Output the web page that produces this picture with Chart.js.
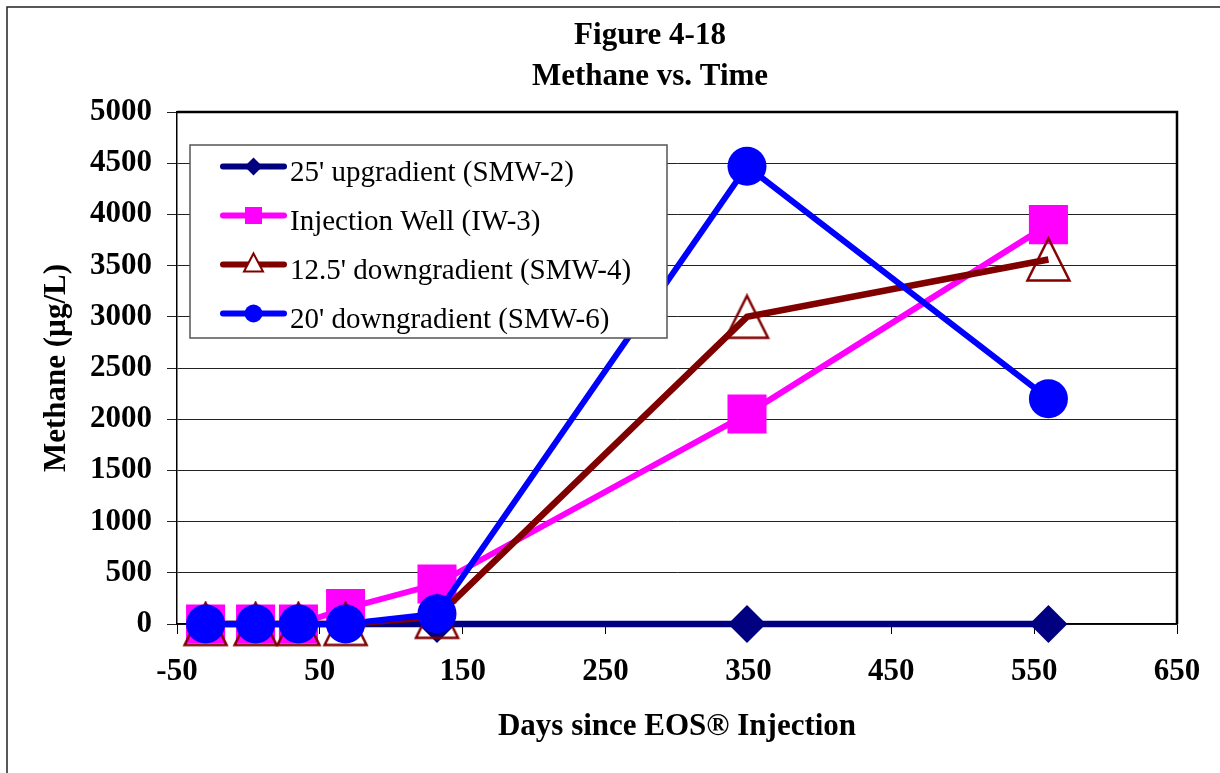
<!DOCTYPE html>
<html>
<head>
<meta charset="utf-8">
<title>Figure 4-18 Methane vs. Time</title>
<script src="https://cdn.jsdelivr.net/npm/chart.js@4.4.1/dist/chart.umd.min.js"></script>
<style>
  html, body { margin: 0; padding: 0; background: #fff; }
  canvas { display: block; }
</style>
</head>
<body>
<canvas id="chart" width="1220" height="773"></canvas>
<script>
// 数据
const days = [-30, 5, 35, 68, 132, 349, 560];
const smw2 = [0, 0, 0, 0, 0, 0, 0];
const iw3 = [0, 0, 0, 150, 390, 2050, 3900];
const smw4 = [0, 0, 0, 0, 70, 3000, 3560];
const smw6 = [0, 0, 0, 0, 100, 4470, 2200];

const seriesLabels = [
    "25' upgradient (SMW-2)",
    "Injection Well (IW-3)",
    "12.5' downgradient (SMW-4)",
    "20' downgradient (SMW-6)"
];
const titleLines = ['Figure 4-18', 'Methane vs. Time'];
const xTitle = 'Days since EOS\u00AE Injection';
const yTitle = 'Methane (\u00B5g/L)';
const xMin = -50, xMax = 650, xStep = 100;
const yMin = 0, yMax = 5000, yStep = 500;

const FONT = '"Liberation Serif", "Times New Roman", serif';

// 空心三角形标记
function triangleMarker(w, h, color, lw) {
    const c = document.createElement('canvas');
    c.width = w + lw * 2;
    c.height = h + lw * 2;
    const g = c.getContext('2d');
    g.strokeStyle = color;
    g.lineWidth = lw;
    g.lineJoin = 'miter';
    g.beginPath();
    g.moveTo(c.width / 2, lw);
    g.lineTo(c.width - lw, h + lw);
    g.lineTo(lw, h + lw);
    g.closePath();
    g.stroke();
    return c;
}

function toPoints(vals) {
    return days.map((d, i) => ({ x: d, y: vals[i] }));
}

const datasets = [
    {
        label: seriesLabels[0], data: toPoints(smw2),
        borderColor: '#000080', backgroundColor: '#000080', borderWidth: 6.5,
        pointStyle: 'rectRot', pointRadius: 19, pointBorderWidth: 0, order: 4,
        legendMarker: 'diamond'
    },
    {
        label: seriesLabels[1], data: toPoints(iw3),
        borderColor: '#FF00FF', backgroundColor: '#FF00FF', borderWidth: 6,
        pointStyle: 'rect', pointRadius: 27.6, pointBorderWidth: 0, order: 3,
        legendMarker: 'square'
    },
    {
        label: seriesLabels[2], data: toPoints(smw4),
        borderColor: '#800000', backgroundColor: 'rgba(0,0,0,0)', borderWidth: 6.5,
        pointStyle: triangleMarker(42, 42, '#800000', 2.5), pointBorderWidth: 0, order: 2,
        legendMarker: 'triangle'
    },
    {
        label: seriesLabels[3], data: toPoints(smw6),
        borderColor: '#0000FF', backgroundColor: '#0000FF', borderWidth: 6,
        pointStyle: 'circle', pointRadius: 19.5, pointBorderWidth: 0, order: 1,
        legendMarker: 'circle'
    }
];
datasets.forEach(ds => { ds.clip = false; ds.tension = 0; ds.pointHoverRadius = ds.pointRadius; });

// 外框、标题、绘图区边框
const framePlugin = {
    id: 'frame',
    beforeDraw(chart) {
        const ctx = chart.ctx;
        ctx.save();
        ctx.fillStyle = '#fff';
        ctx.fillRect(0, 0, chart.width, chart.height);
        ctx.strokeStyle = '#222';
        ctx.lineWidth = 1.5;
        ctx.strokeRect(7, 7, chart.width + 20, chart.height + 20);
        ctx.fillStyle = '#000';
        ctx.font = 'bold 31px ' + FONT;
        ctx.textAlign = 'center';
        ctx.textBaseline = 'alphabetic';
        ctx.fillText(titleLines[0], 650, 44);
        ctx.fillText(titleLines[1], 650, 85);
        ctx.restore();
    },
    afterDatasetsDraw(chart) {
        const a = chart.chartArea;
        const ctx = chart.ctx;
        ctx.save();
        ctx.strokeStyle = '#000';
        ctx.lineWidth = 2.5;
        ctx.beginPath();
        ctx.moveTo(a.left, a.top);
        ctx.lineTo(a.right, a.top);
        ctx.lineTo(a.right, a.bottom);
        ctx.stroke();
        ctx.restore();
    }
};

// 图内图例
const legendPlugin = {
    id: 'innerLegend',
    afterDatasetsDraw(chart) {
        const ctx = chart.ctx;
        const box = { x: 190, y: 145, w: 477, h: 193 };
        ctx.save();
        ctx.fillStyle = '#fff';
        ctx.fillRect(box.x, box.y, box.w, box.h);
        ctx.strokeStyle = '#555';
        ctx.lineWidth = 1.5;
        ctx.strokeRect(box.x, box.y, box.w, box.h);

        chart.data.datasets.forEach((ds, i) => {
            const y = 166.5 + i * 49;
            ctx.strokeStyle = ds.borderColor;
            ctx.lineWidth = 6;
            ctx.lineCap = 'round';
            ctx.beginPath();
            ctx.moveTo(223, y);
            ctx.lineTo(284, y);
            ctx.stroke();

            const cx = 253.5;
            ctx.fillStyle = ds.borderColor;
            ctx.beginPath();
            if (ds.legendMarker === 'diamond') {
                ctx.moveTo(cx - 9, y); ctx.lineTo(cx, y - 9);
                ctx.lineTo(cx + 9, y); ctx.lineTo(cx, y + 9);
                ctx.closePath(); ctx.fill();
            } else if (ds.legendMarker === 'square') {
                ctx.rect(cx - 8.5, y - 8.5, 17, 17); ctx.fill();
            } else if (ds.legendMarker === 'triangle') {
                ctx.fillStyle = '#fff';
                ctx.moveTo(cx, y - 11); ctx.lineTo(cx + 9.5, y + 7);
                ctx.lineTo(cx - 9.5, y + 7); ctx.closePath();
                ctx.fill();
                ctx.lineWidth = 2; ctx.lineCap = 'butt';
                ctx.stroke();
            } else {
                ctx.arc(cx, y, 9, 0, Math.PI * 2); ctx.fill();
            }

            ctx.fillStyle = '#000';
            ctx.font = '29px ' + FONT;
            ctx.textAlign = 'left';
            ctx.textBaseline = 'alphabetic';
            ctx.fillText(ds.label, 290, y + 14);
        });
        ctx.restore();
    }
};

const tickFont = { family: FONT, size: 31, weight: 'bold' };
const plainNumber = v => String(v);

new Chart(document.getElementById('chart'), {
    type: 'line',
    data: { datasets: datasets },
    options: {
        responsive: false,
        animation: false,
        layout: { padding: { left: 0, top: 112, right: 43, bottom: 0 } },
        plugins: {
            legend: { display: false },
            title: { display: false },
            tooltip: { enabled: false }
        },
        scales: {
            x: {
                type: 'linear',
                min: xMin,
                max: xMax,
                afterFit(scale) { scale.height = 149; },
                ticks: { stepSize: xStep, color: '#000', font: tickFont, padding: 19, maxRotation: 0, callback: plainNumber },
                grid: { drawOnChartArea: false, drawTicks: true, tickLength: 10, color: '#000', lineWidth: 1 },
                border: { color: '#000', width: 1.5 },
                title: { display: true, text: xTitle, color: '#000', font: tickFont, padding: { top: 0, bottom: 27 } }
            },
            y: {
                min: yMin,
                max: yMax,
                afterFit(scale) { scale.width = 177; },
                ticks: { stepSize: yStep, color: '#000', font: tickFont, padding: 15, callback: plainNumber },
                grid: { color: '#222', lineWidth: 1, tickLength: 10 },
                border: { color: '#000', width: 1.5 },
                title: { display: true, text: yTitle, color: '#000', font: tickFont, padding: { top: 38, bottom: 0 } }
            }
        }
    },
    plugins: [framePlugin, legendPlugin]
});
</script>
</body>
</html>
